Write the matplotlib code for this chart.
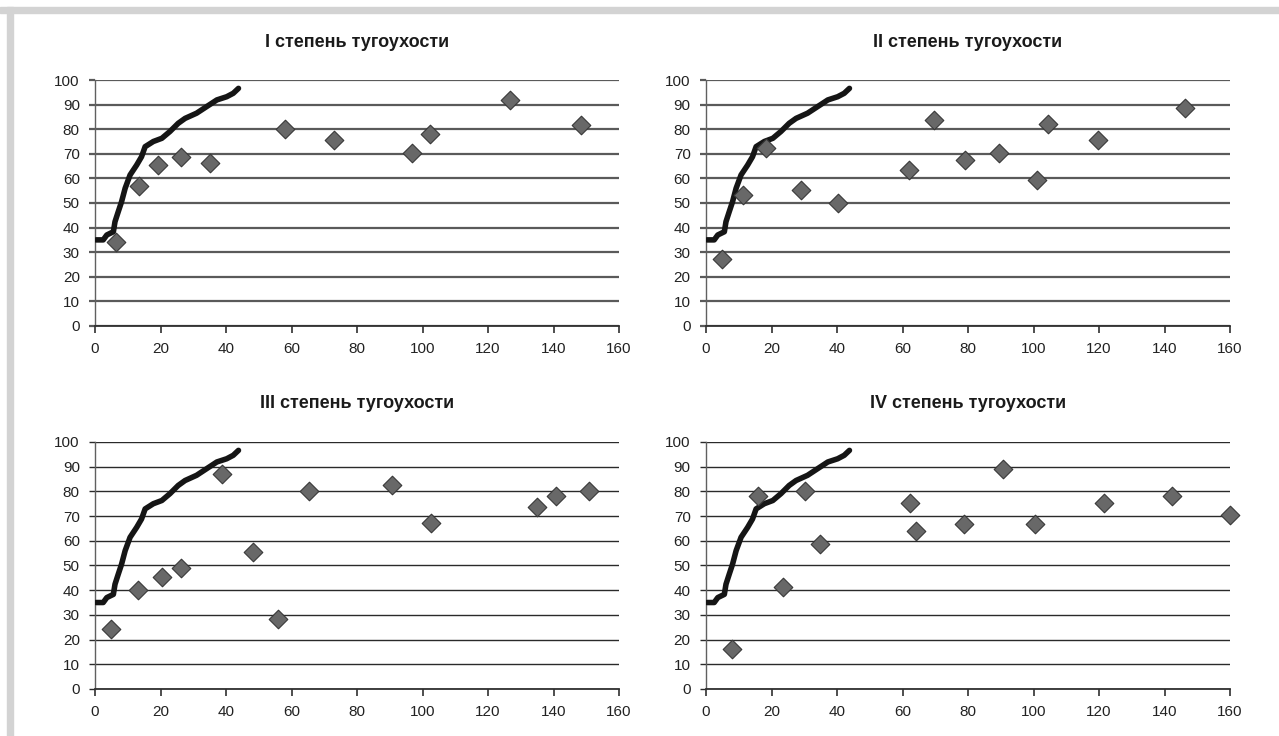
import matplotlib
matplotlib.use("Agg")
import matplotlib.pyplot as plt
from matplotlib.patches import Rectangle

plt.rcParams['font.family'] = ['Liberation Sans', 'DejaVu Sans']

# norm curve (same in all four panels)
curve_x = [0.3, 2.5, 3.6, 5.6, 6.1, 7.1, 8.1, 9.2, 10.7, 12.7, 14.2, 15.3, 17.8,
           20.4, 22.9, 25.4, 27.5, 31.0, 34.1, 37.2, 40.2, 42.2, 43.8]
curve_y = [35, 35, 37, 38.3, 42.4, 46.5, 50.5, 56, 61.4, 65.4, 68.8, 72.9, 75,
           76.3, 79.1, 82.4, 84.4, 86.5, 89.2, 91.9, 93.2, 94.6, 96.6]

titles = ['I степень тугоухости', 'II степень тугоухости',
          'III степень тугоухости', 'IV степень тугоухости']

x1 = [6.5, 13.3, 19.1, 26.4, 35.0, 58.1, 73.1, 96.8, 102.3, 126.6, 148.5]
y1 = [34.0, 57.0, 65.3, 68.7, 66.3, 80.2, 75.5, 70.5, 77.9, 91.7, 81.7]

x2 = [4.9, 11.2, 18.2, 29.1, 40.2, 61.9, 69.6, 79.0, 89.4, 101.1, 104.5, 119.8, 146.3]
y2 = [27.2, 53.1, 72.5, 55.3, 50.0, 63.4, 83.7, 67.3, 70.3, 59.5, 82.0, 75.5, 88.5]

x3 = [5.0, 13.2, 20.3, 26.2, 38.9, 48.2, 55.8, 65.4, 90.8, 102.6, 134.9, 140.9, 150.9]
y3 = [24.2, 40.0, 45.5, 48.8, 86.9, 55.3, 28.2, 80.3, 82.6, 67.0, 73.5, 78.2, 80.3]

x4 = [8.0, 16.0, 23.6, 30.1, 34.9, 62.4, 64.0, 78.9, 90.8, 100.6, 121.6, 142.2, 159.9]
y4 = [16.1, 78.1, 41.1, 80.3, 58.8, 75.3, 64.1, 66.6, 88.9, 66.6, 75.3, 78.1, 70.3]

xs = [x1, x2, x3, x4]
ys = [y1, y2, y3, y4]

fig = plt.figure(figsize=(12.79, 7.36), dpi=100)

# grey frame on top and left edge
fig.patches.append(Rectangle((0, 1 - 13 / 736), 1, 6 / 736, transform=fig.transFigure,
                             color='#d3d3d3', zorder=0))
fig.patches.append(Rectangle((7 / 1279, 0), 6 / 1279, 1 - 7 / 736, transform=fig.transFigure,
                             color='#d3d3d3', zorder=0))

boxes = [(0.0743, 0.5571, 0.4097, 0.3342), (0.552, 0.5571, 0.4097, 0.3342),
         (0.0743, 0.0639, 0.4097, 0.3356), (0.552, 0.0639, 0.4097, 0.3356)]
title_y = [0.9416, 0.9416, 0.4511, 0.4511]

for i, box in enumerate(boxes):
    ax = fig.add_axes(box)
    top_row = i < 2
    gcol = '#5a5a5a' if top_row else '#2a2a2a'
    glw = 1.6 if top_row else 1.0

    ax.plot(curve_x, curve_y, color='#151515', lw=4.0, solid_capstyle='round',
            solid_joinstyle='round', zorder=3)
    ax.scatter(xs[i], ys[i], marker='D', s=90, facecolor='#686868',
               edgecolor='#383838', linewidth=0.8, zorder=4, clip_on=False)

    ax.set_xlim(0, 160)
    ax.set_ylim(0, 100)
    ax.set_xticks(range(0, 161, 20))
    ax.set_yticks(range(0, 101, 10))
    ax.yaxis.grid(True, color=gcol, lw=glw)
    ax.set_axisbelow(True)

    for s in ['top', 'right']:
        ax.spines[s].set_visible(False)
    ax.spines['left'].set_color('#606060')
    ax.spines['left'].set_linewidth(1.0)
    ax.spines['bottom'].set_color('#303030')
    ax.spines['bottom'].set_linewidth(1.3)

    ax.tick_params(axis='y', length=4.5, width=glw, color=gcol, pad=6.5,
                   labelsize=11, labelcolor='#222222')
    ax.tick_params(axis='x', length=5, width=1.2, color='#303030', pad=6.5,
                   labelsize=11, labelcolor='#222222')

    cx = box[0] + box[2] / 2
    fig.text(cx, title_y[i], titles[i], ha='center', va='center',
             fontsize=13, fontweight='bold', color='#1a1a1a')

fig.savefig('out.png', dpi=100, facecolor='white')
